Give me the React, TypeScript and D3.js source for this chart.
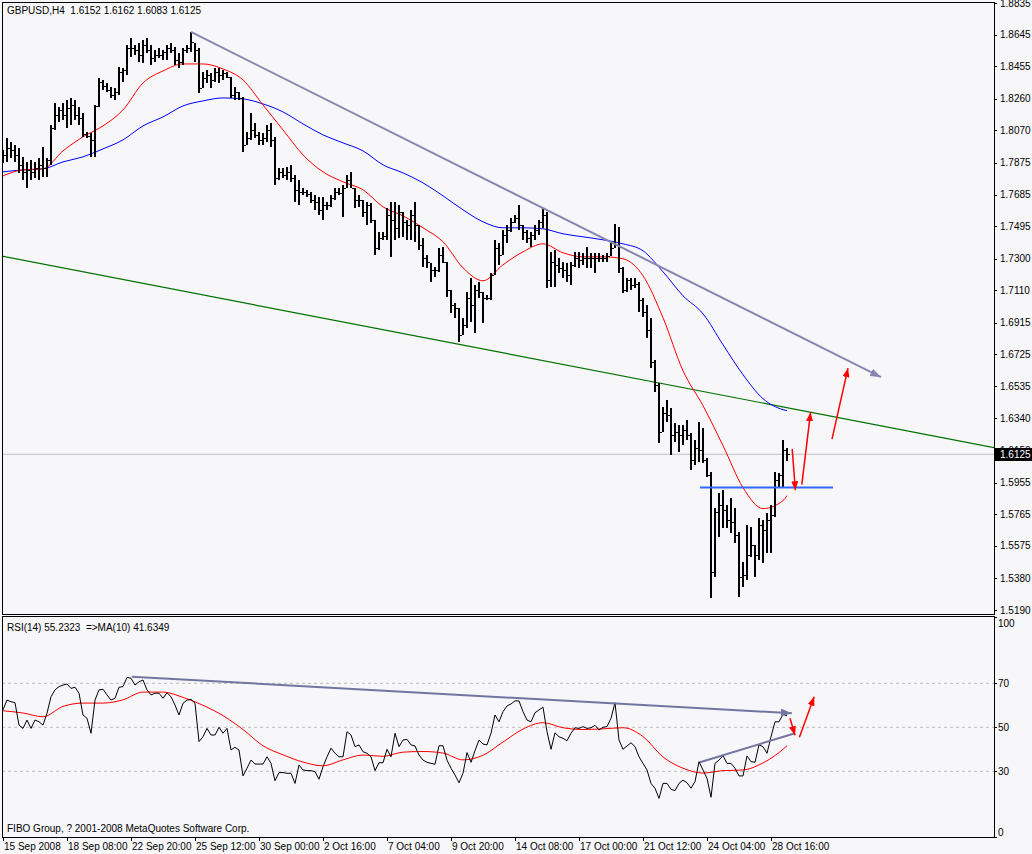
import * as d3 from "d3"

// GBPUSD H4 bars (high / low / close), 15 Sep - 29 Oct 2008
const highs = [
  1.7953, 1.8025, 1.8001, 1.7983, 1.7965, 1.7911, 1.7881, 1.7893, 1.7881, 1.7905,
  1.7971, 1.7905, 1.8103, 1.8235, 1.8211, 1.8235, 1.8253, 1.8265, 1.8253, 1.8211,
  1.8175, 1.8061, 1.8055, 1.8223, 1.8385, 1.8373, 1.8355, 1.8331, 1.8325, 1.8451,
  1.8445, 1.8583, 1.8625, 1.8583, 1.8595, 1.8613, 1.8625, 1.8583, 1.8553, 1.8565,
  1.8553, 1.8583, 1.8595, 1.8571, 1.8535, 1.8565, 1.8583, 1.8661, 1.8595, 1.8565,
  1.8421, 1.8433, 1.8415, 1.8445, 1.8445, 1.8433, 1.8421, 1.8391, 1.8331, 1.8301,
  1.8271, 1.8061, 1.8175, 1.8115, 1.8061, 1.8055, 1.8103, 1.8115, 1.8031, 1.7845,
  1.7845, 1.7851, 1.7863, 1.7803, 1.7773, 1.7725, 1.7713, 1.7701, 1.7683, 1.7671,
  1.7671, 1.7641, 1.7683, 1.7725, 1.7725, 1.7743, 1.7803, 1.7821, 1.7725, 1.7683,
  1.7653, 1.7641, 1.7635, 1.7533, 1.7461, 1.7461, 1.7605, 1.7641, 1.7641, 1.7623,
  1.7581, 1.7533, 1.7593, 1.7641, 1.7503, 1.7425, 1.7323, 1.7275, 1.7251, 1.7365,
  1.7371, 1.7281, 1.7113, 1.7035, 1.7005, 1.6945, 1.7101, 1.7185, 1.7143, 1.7161,
  1.7101, 1.7083, 1.7215, 1.7413, 1.7395, 1.7473, 1.7503, 1.7545, 1.7563, 1.7623,
  1.7503, 1.7473, 1.7461, 1.7503, 1.7533, 1.7605, 1.7581, 1.7341, 1.7353, 1.7305,
  1.7281, 1.7275, 1.7281, 1.7341, 1.7341, 1.7335, 1.7371, 1.7335, 1.7335, 1.7335,
  1.7323, 1.7335, 1.7395, 1.7509, 1.7491, 1.7251, 1.7185, 1.7185, 1.7185, 1.7161,
  1.7065, 1.7023, 1.6945, 1.6693, 1.6555, 1.6411, 1.6453, 1.6405, 1.6315, 1.6303,
  1.6303, 1.6333, 1.6255, 1.6213, 1.6321, 1.6285, 1.6105, 1.6021, 1.5805, 1.5895,
  1.5913, 1.5823, 1.5865, 1.5805, 1.5661, 1.5481, 1.5703, 1.5691, 1.5583, 1.5745,
  1.5733, 1.5775, 1.5823, 1.6021, 1.6015, 1.6213, 1.6162,
]
const lows = [
  1.7875, 1.7881, 1.7905, 1.7881, 1.7815, 1.7773, 1.7725, 1.7773, 1.7785, 1.7773,
  1.7791, 1.7791, 1.7863, 1.8073, 1.8121, 1.8133, 1.8085, 1.8103, 1.8133, 1.8103,
  1.8031, 1.8025, 1.7911, 1.7911, 1.8211, 1.8313, 1.8301, 1.8265, 1.8253, 1.8283,
  1.8361, 1.8403, 1.8511, 1.8523, 1.8481, 1.8475, 1.8535, 1.8463, 1.8481, 1.8505,
  1.8493, 1.8493, 1.8535, 1.8463, 1.8445, 1.8463, 1.8535, 1.8541, 1.8481, 1.8295,
  1.8325, 1.8355, 1.8325, 1.8361, 1.8355, 1.8373, 1.8385, 1.8265, 1.8253, 1.8253,
  1.7941, 1.7983, 1.8013, 1.8025, 1.7983, 1.7983, 1.8001, 1.7971, 1.7743, 1.7773,
  1.7785, 1.7773, 1.7761, 1.7641, 1.7623, 1.7683, 1.7671, 1.7635, 1.7593, 1.7563,
  1.7533, 1.7593, 1.7611, 1.7653, 1.7683, 1.7551, 1.7725, 1.7725, 1.7605, 1.7611,
  1.7551, 1.7503, 1.7515, 1.7323, 1.7353, 1.7413, 1.7413, 1.7311, 1.7413, 1.7425,
  1.7431, 1.7413, 1.7413, 1.7401, 1.7353, 1.7251, 1.7245, 1.7161, 1.7191, 1.7221,
  1.7275, 1.7071, 1.6975, 1.6945, 1.6801, 1.6843, 1.6885, 1.6921, 1.6855, 1.7065,
  1.6915, 1.7053, 1.7053, 1.7203, 1.7263, 1.7323, 1.7395, 1.7461, 1.7515, 1.7473,
  1.7413, 1.7395, 1.7371, 1.7413, 1.7443, 1.7485, 1.7125, 1.7131, 1.7131, 1.7215,
  1.7185, 1.7161, 1.7143, 1.7251, 1.7245, 1.7263, 1.7245, 1.7245, 1.7215, 1.7281,
  1.7281, 1.7281, 1.7317, 1.7365, 1.7215, 1.7095, 1.7101, 1.7113, 1.7125, 1.6981,
  1.6951, 1.6825, 1.6645, 1.6501, 1.6195, 1.6261, 1.6321, 1.6123, 1.6201, 1.6141,
  1.6183, 1.6213, 1.6033, 1.6063, 1.6081, 1.6075, 1.5991, 1.5265, 1.5391, 1.5631,
  1.5685, 1.5685, 1.5655, 1.5595, 1.5271, 1.5331, 1.5373, 1.5511, 1.5391, 1.5493,
  1.5475, 1.5535, 1.5535, 1.5751, 1.5925, 1.5925, 1.6083,
]
const closes = [
  1.7923, 1.7965, 1.7953, 1.7923, 1.7863, 1.7821, 1.7833, 1.7821, 1.7845, 1.7863,
  1.7845, 1.7893, 1.8085, 1.8163, 1.8193, 1.8163, 1.8205, 1.8223, 1.8163, 1.8145,
  1.8049, 1.8037, 1.8013, 1.8217, 1.8361, 1.8337, 1.8313, 1.8283, 1.8301, 1.8421,
  1.8433, 1.8565, 1.8565, 1.8553, 1.8523, 1.8583, 1.8553, 1.8505, 1.8523, 1.8523,
  1.8541, 1.8565, 1.8553, 1.8493, 1.8481, 1.8553, 1.8565, 1.8601, 1.8553, 1.8325,
  1.8385, 1.8403, 1.8373, 1.8421, 1.8403, 1.8415, 1.8391, 1.8283, 1.8301, 1.8265,
  1.7983, 1.8025, 1.8073, 1.8043, 1.8013, 1.8025, 1.8073, 1.8013, 1.7785, 1.7821,
  1.7803, 1.7821, 1.7785, 1.7713, 1.7701, 1.7701, 1.7689, 1.7653, 1.7641, 1.7593,
  1.7623, 1.7623, 1.7665, 1.7701, 1.7695, 1.7725, 1.7773, 1.7725, 1.7653, 1.7653,
  1.7581, 1.7623, 1.7533, 1.7365, 1.7425, 1.7437, 1.7563, 1.7533, 1.7485, 1.7581,
  1.7521, 1.7503, 1.7563, 1.7503, 1.7383, 1.7305, 1.7281, 1.7233, 1.7233, 1.7323,
  1.7281, 1.7113, 1.7023, 1.7005, 1.6843, 1.6903, 1.7065, 1.7023, 1.7113, 1.7101,
  1.7065, 1.7065, 1.7203, 1.7365, 1.7323, 1.7443, 1.7473, 1.7521, 1.7545, 1.7503,
  1.7461, 1.7425, 1.7443, 1.7473, 1.7521, 1.7563, 1.7173, 1.7281, 1.7263, 1.7245,
  1.7233, 1.7203, 1.7263, 1.7305, 1.7293, 1.7305, 1.7305, 1.7305, 1.7305, 1.7305,
  1.7305, 1.7317, 1.7365, 1.7383, 1.7245, 1.7113, 1.7173, 1.7143, 1.7149, 1.7053,
  1.6981, 1.6873, 1.6681, 1.6543, 1.6261, 1.6375, 1.6363, 1.6243, 1.6261, 1.6243,
  1.6273, 1.6243, 1.6093, 1.6165, 1.6153, 1.6093, 1.6003, 1.5421, 1.5781, 1.5823,
  1.5793, 1.5733, 1.5721, 1.5643, 1.5391, 1.5403, 1.5523, 1.5583, 1.5523, 1.5703,
  1.5673, 1.5733, 1.5763, 1.5973, 1.6003, 1.6152, 1.6125,
]
const firstOpen = 1.793
// forex bars open where the previous one closed
const opens = closes.map((c, i) => (i === 0 ? firstOpen : closes[i - 1]))

// moving averages on price, sampled every 5 bars
const maIdx = [
  0, 5, 10, 15, 20, 25, 30, 35, 40, 45, 50, 55, 60, 65, 70, 75, 80, 85, 90, 95,
  100, 105, 110, 115, 120, 125, 130, 135, 140, 145, 150, 155, 160, 165, 170, 175,
  180, 185, 190, 195, 196,
]
const maFast = [
  1.7797, 1.7833, 1.7839, 1.7947, 1.8031, 1.8097, 1.8193, 1.8355, 1.8427, 1.8469,
  1.8469, 1.8439, 1.8373, 1.8223, 1.8073, 1.7923, 1.7821, 1.7761, 1.7713, 1.7611,
  1.7557, 1.7485, 1.7401, 1.7245, 1.7167, 1.7263, 1.7341, 1.7389, 1.7335, 1.7311,
  1.7311, 1.7299, 1.7197, 1.6945, 1.6627, 1.6417, 1.6177, 1.5925, 1.5799, 1.5847,
  1.5877,
]
const maSlow = [
  1.7821, 1.7833, 1.7839, 1.7881, 1.7911, 1.7959, 1.8013, 1.8097, 1.8151, 1.8217,
  1.8247, 1.8265, 1.8259, 1.8229, 1.8181, 1.8109, 1.8043, 1.7995, 1.7947, 1.7863,
  1.7815, 1.7755, 1.7677, 1.7593, 1.7521, 1.7485, 1.7485, 1.7479, 1.7449, 1.7431,
  1.7413, 1.7389, 1.7347, 1.7221, 1.7077, 1.6969, 1.6783, 1.6603, 1.6459, 1.6393,
  1.6387,
]

// RSI(14) per bar and its MA(10) sampled like the price MAs
const rsi = [
  57.9, 62.4, 61.6, 61.2, 51, 49.5, 53.3, 49.5, 53.3, 52.5,
  51, 56.4, 63.9, 67, 68.5, 69.2, 69.7, 67.7, 68.2, 65.5,
  55.6, 54.1, 47.3, 62.4, 67, 67.3, 64.7, 62.4, 63.2, 68.2,
  68.5, 72.7, 72.3, 69.2, 70.7, 71.5, 67, 64.7, 65.5, 65.5,
  63.2, 65.7, 63.9, 60.1, 55.6, 60.9, 62.4, 62.7, 60.9, 43.5,
  45.7, 49.5, 46.5, 46.5, 50, 47.3, 49.5, 39.7, 40.9, 39.7,
  27.9, 31.4, 35.1, 33.3, 33.3, 33.3, 36.6, 33.6, 25.7, 29.4,
  29.4, 29.1, 29.1, 24.5, 32.9, 30.6, 30.3, 30.3, 29.8, 26.4,
  32.1, 36.6, 40.5, 38.2, 36.6, 36.6, 48, 46.5, 41.2, 42,
  38.9, 38.2, 36.6, 30.3, 33.9, 33.9, 40, 36.6, 47.3, 41.2,
  44.2, 44.5, 42, 41.5, 37.4, 35.1, 34.1, 33.6, 33.2, 41.6,
  41.6, 35.1, 31.4, 28.3, 24.8, 29.1, 38.5, 34.1, 39.4, 44.2,
  42.4, 42, 47.3, 55.6, 52.5, 57.1, 59.7, 60.6, 62, 62,
  57.1, 53.3, 52.5, 56.6, 57.9, 59.1, 48, 40, 47.5, 45.7,
  45, 43.9, 47.3, 49.8, 49.5, 50.3, 49.5, 49.8, 50.9, 48.8,
  50, 50.3, 54.1, 61.2, 44.2, 40, 41.5, 43, 41.2, 36.6,
  33.6, 30.6, 24.5, 22.3, 17.7, 24.5, 24.5, 21.8, 21.2, 24.5,
  26, 24.8, 22.3, 25.3, 34.4, 30.6, 26.8, 18.2, 33.6, 35.1,
  37.1, 33.6, 33.6, 31.4, 27.9, 27.9, 37, 34.4, 34.1, 42,
  41.2, 38.2, 45.7, 52.5, 52.5, 55.9, 55.23,
]
const rsiMa = [
  57.5, 56.5, 54.8, 59.5, 61, 61, 62.5, 66, 66, 63.6,
  60, 55.3, 49, 41.6, 37.5, 34.2, 32.5, 35.2, 37.4, 36.8,
  38.7, 39, 38.3, 35.2, 37.3, 43.3, 49.2, 52.1, 49.8, 49,
  49.3, 49.8, 45.8, 36.5, 31.4, 29.2, 30.3, 30.6, 33.8, 40,
  41.63,
]

const priceTicks = [
  1.8835, 1.8645, 1.8455, 1.826, 1.807, 1.7875, 1.7685, 1.7495, 1.73, 1.711,
  1.6915, 1.6725, 1.6535, 1.634, 1.615, 1.5955, 1.5765, 1.5575, 1.538, 1.519,
]
const rsiTicks = [100, 70, 50, 30, 0]
const rsiLevels = [70, 50, 30]
const timeLabels = [
  "15 Sep 2008", "18 Sep 08:00", "22 Sep 20:00", "25 Sep 12:00", "30 Sep 00:00",
  "2 Oct 16:00", "7 Oct 04:00", "9 Oct 20:00", "14 Oct 08:00", "17 Oct 00:00",
  "21 Oct 12:00", "24 Oct 04:00", "28 Oct 16:00",
]
const barsPerLabel = 16
const lastPrice = 1.6125

// hand drawn objects: [barIndex, value] end points
const mainTrend = [[47, 1.8661], [219.5, 1.6588]]
const channelLine = [[-0.75, 1.7317], [247.75, 1.6165]]
const supportLine = [[174.25, 1.5925], [207.5, 1.5925]]
const priceArrows = [
  [[197.3, 1.6157], [198.1, 1.5909]],
  [[199.7, 1.5943], [201.9, 1.6378]],
  [[207.25, 1.6216], [211.25, 1.6642]],
]
const rsiTrendTop = [[32.2, 73], [197.2, 56.4]]
const rsiTrendLow = [[174.25, 34.1], [198, 47.3]]
const rsiArrows = [
  [[196.75, 54.1], [198, 46.4]],
  [[199.1, 45.5], [202.8, 63.9]],
]

const font = "'Liberation Sans', Arial, sans-serif"
const bg = "#f7f7fa"

export default function App() {
  const width = 1032
  const height = 854
  const left = 2
  const right = 994
  const mainTop = 2
  const mainBottom = 614
  const rsiTop = 616
  const rsiBottom = 837

  const x = d3.scaleLinear().domain([0, 196]).range([3, 787])
  const y = d3.scaleLinear().domain([1.519, 1.8835]).range([610, 3])
  const yr = d3.scaleLinear().domain([0, 100]).range([837.3, 617.3])

  const priceLine = d3
    .line<number>()
    .x((_, i) => x(maIdx[i]))
    .y((d) => y(d))
    .curve(d3.curveMonotoneX)

  const rsiLine = d3
    .line<number>()
    .x((_, i) => x(i))
    .y((d) => yr(d))

  const rsiMaLine = d3
    .line<number>()
    .x((_, i) => x(maIdx[i]))
    .y((d) => yr(d))
    .curve(d3.curveMonotoneX)

  const seg = (p: number[][], sy: (v: number) => number) => ({
    x1: x(p[0][0]),
    y1: sy(p[0][1]),
    x2: x(p[1][0]),
    y2: sy(p[1][1]),
  })

  return (
    <svg
      width={width}
      height={height}
      style={{ position: "absolute", left: 0, top: 0, background: bg }}
      fontFamily={font}
      fontSize={10}
    >
      <defs>
        <clipPath id="mainClip">
          <rect x={left} y={mainTop} width={right - left} height={mainBottom - mainTop} />
        </clipPath>
        <clipPath id="rsiClip">
          <rect x={left} y={rsiTop} width={right - left} height={rsiBottom - rsiTop} />
        </clipPath>
        <marker id="headRed" viewBox="0 0 9 7" refX={9} refY={3.5} markerWidth={9} markerHeight={7} markerUnits="userSpaceOnUse" orient="auto">
          <path d="M0,0L9,3.5L0,7z" fill="#ff0000" />
        </marker>
        <marker id="headGray" viewBox="0 0 11 8" refX={11} refY={4} markerWidth={11} markerHeight={8} markerUnits="userSpaceOnUse" orient="auto">
          <path d="M0,0L11,4L0,8z" fill="#8686b0" />
        </marker>
        <marker id="headGrayDark" viewBox="0 0 11 8" refX={11} refY={4} markerWidth={11} markerHeight={8} markerUnits="userSpaceOnUse" orient="auto">
          <path d="M0,0L11,4L0,8z" fill="#7474a2" />
        </marker>
      </defs>

      <rect x={0} y={0} width={width} height={height} fill={bg} />

      {/* main price window */}
      <g clipPath="url(#mainClip)">
        <line x1={left} x2={right} y1={y(lastPrice)} y2={y(lastPrice)} stroke="#c0c0c0" />
        <line {...seg(channelLine, y)} stroke="#007000" strokeWidth={1.2} />
        <path d={priceLine(maSlow) || ""} fill="none" stroke="#0000ff" strokeWidth={1} />
        <path d={priceLine(maFast) || ""} fill="none" stroke="#ff0000" strokeWidth={1} />
        <g shapeRendering="crispEdges" fill="#000">
          {closes.map((c, i) => (
            <g key={i}>
              <rect x={x(i) - 1} y={y(highs[i])} width={2} height={Math.max(1, y(lows[i]) - y(highs[i]))} />
              <rect x={x(i) - 3} y={Math.round(y(opens[i]))} width={2} height={1} />
              <rect x={x(i) + 1} y={Math.round(y(c))} width={2} height={1} />
            </g>
          ))}
        </g>
        <line {...seg(supportLine, y)} stroke="#2f6bff" strokeWidth={2} />
        <line {...seg(mainTrend, y)} stroke="#8686b0" strokeWidth={2} markerEnd="url(#headGray)" />
        {priceArrows.map((a, i) => (
          <line key={i} {...seg(a, y)} stroke="#ff0000" strokeWidth={1.5} markerEnd="url(#headRed)" />
        ))}
      </g>
      <text x={7} y={14} style={{ whiteSpace: "pre" }}>GBPUSD,H4  1.6152 1.6162 1.6083 1.6125</text>

      {/* rsi window */}
      <g clipPath="url(#rsiClip)">
        {rsiLevels.map((v) => (
          <line key={v} x1={left} x2={right} y1={yr(v)} y2={yr(v)} stroke="#bdbdbd" strokeDasharray="3,3" />
        ))}
        <path d={rsiMaLine(rsiMa) || ""} fill="none" stroke="#ff0000" strokeWidth={1} />
        <path d={rsiLine(rsi) || ""} fill="none" stroke="#000" strokeWidth={1} />
        <line {...seg(rsiTrendTop, yr)} stroke="#7474a2" strokeWidth={2} markerEnd="url(#headGrayDark)" />
        <line {...seg(rsiTrendLow, yr)} stroke="#7474a2" strokeWidth={2} />
        {rsiArrows.map((a, i) => (
          <line key={i} {...seg(a, yr)} stroke="#ff0000" strokeWidth={1.5} markerEnd="url(#headRed)" />
        ))}
      </g>
      <text x={7} y={631} style={{ whiteSpace: "pre" }}>RSI(14) 55.2323  =&gt;MA(10) 41.6349</text>
      <text x={7} y={832}>FIBO Group, ? 2001-2008 MetaQuotes Software Corp.</text>

      {/* frames */}
      <g fill="none" stroke="#000" shapeRendering="crispEdges">
        <rect x={left} y={mainTop} width={right - left} height={mainBottom - mainTop} />
        <rect x={left} y={rsiTop} width={right - left} height={rsiBottom - rsiTop} />
      </g>

      {/* price axis */}
      <g shapeRendering="crispEdges">
        {priceTicks.map((t) => (
          <g key={t}>
            <line x1={right} x2={right + 3} y1={Math.round(y(t))} y2={Math.round(y(t))} stroke="#000" />
            <text x={1000} y={y(t) + 3.5}>{t.toFixed(4)}</text>
          </g>
        ))}
        <rect x={right + 1} y={y(lastPrice) - 6.5} width={width - right - 1} height={13} fill="#000" />
        <text x={1000} y={y(lastPrice) + 3.5} fill="#fff">{lastPrice.toFixed(4)}</text>
      </g>

      {/* rsi axis */}
      <g shapeRendering="crispEdges">
        {rsiTicks.map((t) => (
          <g key={t}>
            <line x1={right} x2={right + 3} y1={Math.round(yr(t))} y2={Math.round(yr(t))} stroke="#000" />
            <text x={998} y={t === 100 ? 627 : t === 0 ? 836 : yr(t) + 3.5}>{t}</text>
          </g>
        ))}
      </g>

      {/* time axis */}
      <g shapeRendering="crispEdges">
        {timeLabels.map((lab, k) => (
          <g key={lab}>
            <line x1={x(k * barsPerLabel)} x2={x(k * barsPerLabel)} y1={rsiBottom} y2={rsiBottom + 4} stroke="#000" />
            <text x={x(k * barsPerLabel) + 1} y={850}>{lab}</text>
          </g>
        ))}
      </g>
    </svg>
  )
}
